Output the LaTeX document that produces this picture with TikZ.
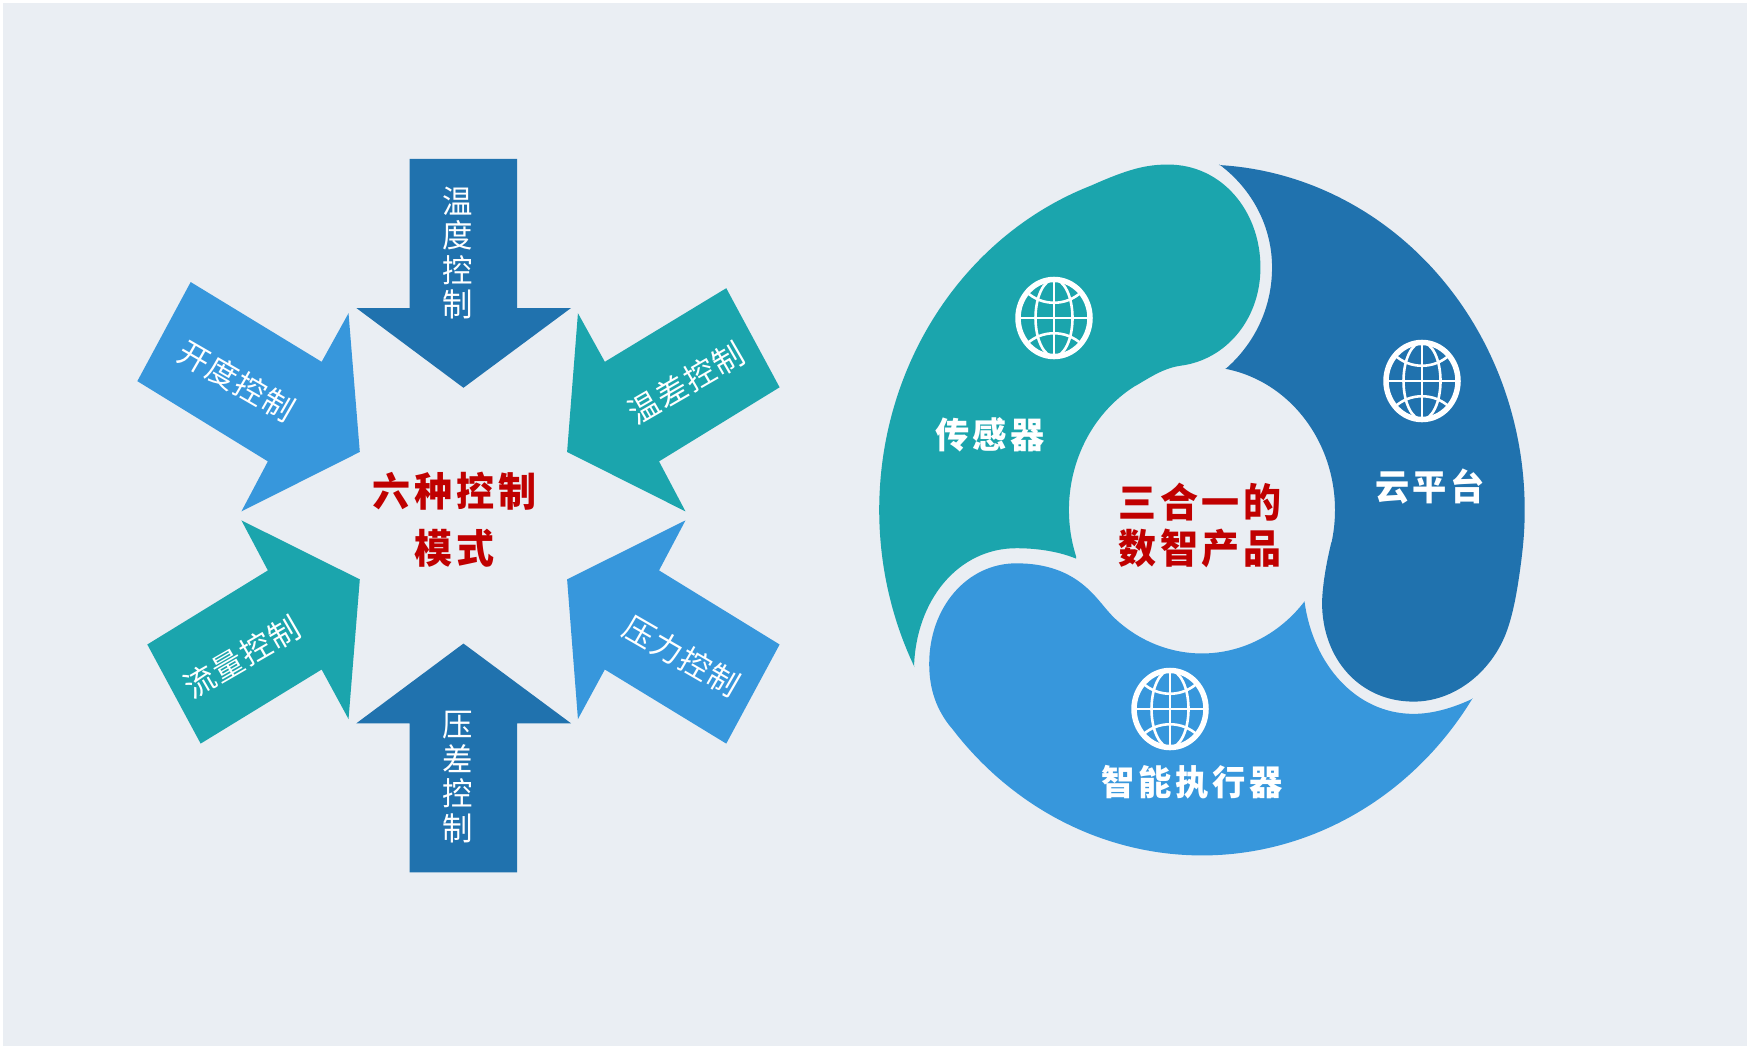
\documentclass[tikz,border=0pt]{standalone}
\usepackage{fontspec}
\setmainfont{Noto Sans CJK SC}
\definecolor{bgc}{HTML}{EAEEF3}
\definecolor{darkb}{HTML}{2072AE}
\definecolor{tealc}{HTML}{1BA5AD}
\definecolor{lightb}{HTML}{3797DC}
\definecolor{redt}{HTML}{C00000}
\tikzset{
 lab/.style={text=white,inner sep=0,font=\fontsize{31}{34.5}\selectfont\addfontfeature{LetterSpace=4},align=center},
 vlab/.style={text=white,inner sep=0,font=\fontsize{32}{34.6}\selectfont\addfontfeature{FakeStretch=0.95},align=center},
 wlab/.style={text=white,inner sep=0,font=\fontsize{36}{38}\selectfont\bfseries\addfontfeature{FakeStretch=0.95,LetterSpace=9},align=center},
 title/.style={text=redt,inner sep=0,font=\fontsize{40}{46}\selectfont\bfseries\addfontfeature{FakeStretch=0.95,LetterSpace=10},align=center},
 globe/.pic={
  \begin{scope}[yscale=1.07]
  \draw[white,line width=5.5pt] (0,0) circle[radius=36];
  \begin{scope}[white,line width=2.6pt]
   \draw (0,-36)--(0,36);
   \draw (-36,0)--(36,0);
   \draw (0,0) ellipse[x radius=18.5,y radius=36];
   \draw (-27,-24) .. controls (-12,-11) and (12,-11) .. (27,-24);
   \draw (-27,24) .. controls (-12,11) and (12,11) .. (27,24);
  \end{scope}
  \end{scope}
 }
}
\begin{document}
\begin{tikzpicture}[x=1pt,y=-1pt]
\useasboundingbox (0,0) rectangle (1750,1050);
\fill[white] (0,0) rectangle (1750,1050);
\fill[bgc] (3,3) rectangle (1747,1046);
% left arrows, traced in zoom units
\begin{scope}[shift={(120,140)}]
\begin{scope}[x=0.43365pt,y=-0.47192pt]
\fill[darkb] (668,40)--(916,40)--(916,356)--(1040,356)--(792,525)--(545,356)--(668,356)--cycle;
\fill[darkb] (668,1552)--(916,1552)--(916,1236)--(1040,1236)--(792,1067)--(545,1236)--(668,1236)--cycle;
\fill[lightb] (163,301)--(465,470)--(527,367)--(553,661)--(280,787)--(341,681)--(40,511)--cycle;
\fill[tealc] (1398,314)--(1118,470)--(1056,367)--(1031,661)--(1304,787)--(1243,681)--(1521,524)--cycle;
\fill[tealc] (63,1069)--(341,912)--(280,806)--(553,931)--(527,1227)--(465,1122)--(186,1279)--cycle;
\fill[lightb] (1521,1069)--(1243,912)--(1304,806)--(1031,931)--(1056,1227)--(1118,1122)--(1398,1279)--cycle;
\end{scope}
\end{scope}
% ring segments, traced in zoom units
\begin{scope}[shift={(860,140)}]
\begin{scope}[x=0.44643pt,y=-0.47192pt]
\fill[tealc] plot[domain=153:250,samples=60,smooth,variable=\t] ({766+723*cos(\t)},{784+732*sin(\t)})
 -- (519,96) .. controls (600,62) and (640,52) .. (690,52)
 .. controls (810,52) and (897,150) .. (897,270)
 .. controls (897,380) and (820,465) .. (720,478)
 .. controls (680,483) and (650,503) .. (617,521)
 -- plot[domain=240:161,samples=50,smooth,variable=\t] ({766+298*cos(\t)},{784+304*sin(\t)})
 -- (484,887) .. controls (440,870) and (390,865) .. (350,865)
 .. controls (220,865) and (125,975) .. (121,1117) -- cycle;
\fill[darkb] plot[domain=273:368,samples=60,smooth,variable=\t] ({766+723*cos(\t)},{784+732*sin(\t)})
 -- (1482,886) .. controls (1472,960) and (1462,1010) .. (1445,1050)
 .. controls (1410,1130) and (1330,1190) .. (1240,1190)
 .. controls (1120,1190) and (1035,1100) .. (1035,980)
 .. controls (1036,940) and (1046,890) .. (1056,852)
 -- plot[domain=13:-80,samples=50,smooth,variable=\t] ({766+298*cos(\t)},{784+304*sin(\t)})
 -- (819,485) .. controls (880,435) and (923,360) .. (923,270)
 .. controls (923,185) and (880,105) .. (805,52) -- cycle;
\fill[lightb] (1372,1184) .. controls (1325,1205) and (1280,1216) .. (1240,1216)
 .. controls (1110,1216) and (1015,1110) .. (996,980)
 -- plot[domain=39.5:133,samples=50,smooth,variable=\t] ({766+298*cos(\t)},{784+304*sin(\t)})
 -- (563,1006) .. controls (530,975) and (490,897) .. (350,897)
 .. controls (240,897) and (155,990) .. (155,1110)
 .. controls (155,1165) and (172,1208) .. (204,1245)
 -- plot[domain=141:33,samples=60,smooth,variable=\t] ({766+723*cos(\t)},{784+732*sin(\t)}) -- cycle;
\end{scope}
\end{scope}
% globes
\pic at (1054,318) {globe};
\pic at (1422,381) {globe};
\pic at (1170,709) {globe};
% arrow labels
\node[vlab] (t1) at (458,253) {温\\度\\控\\制};
\node[vlab] (t2) at (458,777) {压\\差\\控\\制};
\node[lab,rotate=-30] (t3) at (237,381) {开度控制};
\node[lab,rotate=30] (t4) at (686,383) {温差控制};
\node[lab,rotate=30] (t5) at (242,657) {流量控制};
\node[lab,rotate=-30] (t6) at (682,656) {压力控制};
% centres
\node[title,font=\fontsize{40}{57}\selectfont\bfseries\addfontfeature{FakeStretch=0.95,LetterSpace=10}] (c1) at (454.5,520) {六种控制\\模式};
\node[title] (c2) at (1200,525) {三合一的\\数智产品};
% ring labels
\node[wlab] (r1) at (990,435) {传感器};
\node[wlab] (r2) at (1430,487) {云平台};
\node[wlab,font=\fontsize{35}{38}\selectfont\bfseries\addfontfeature{FakeStretch=0.95,LetterSpace=11}] (r3) at (1192,782) {智能执行器};
\end{tikzpicture}
\end{document}
